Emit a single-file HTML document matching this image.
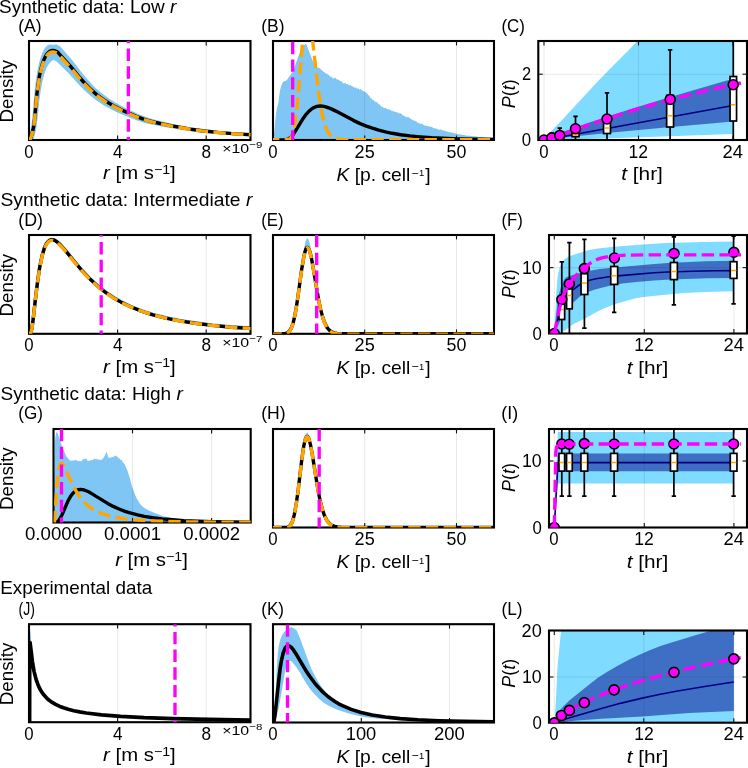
<!DOCTYPE html><html><head><meta charset="utf-8"><style>html,body{margin:0;padding:0;background:#fff;}svg{display:block;will-change:transform;}text{font-family:"Liberation Sans", sans-serif;}</style></head><body>
<svg width="748" height="768" viewBox="0 0 748 768">
<rect width="748" height="768" fill="#fff"/>
<defs>
<clipPath id="cA"><rect x="29" y="41" width="221.5" height="99"/></clipPath>
<clipPath id="cB"><rect x="273" y="41" width="221" height="99"/></clipPath>
<clipPath id="cC"><rect x="538.3" y="41" width="208.7" height="99"/></clipPath>
<clipPath id="cD"><rect x="29" y="235" width="221.5" height="98.8"/></clipPath>
<clipPath id="cE"><rect x="273" y="235" width="221" height="98.8"/></clipPath>
<clipPath id="cF"><rect x="549" y="235" width="198" height="98.5"/></clipPath>
<clipPath id="cG"><rect x="53.5" y="429" width="197.2" height="93.5"/></clipPath>
<clipPath id="cH"><rect x="273" y="429" width="221" height="98.5"/></clipPath>
<clipPath id="cI"><rect x="549" y="429" width="198" height="98.5"/></clipPath>
<clipPath id="cJ"><rect x="29" y="624.2" width="221.5" height="98"/></clipPath>
<clipPath id="cK"><rect x="273" y="624.2" width="221" height="98.3"/></clipPath>
<clipPath id="cL"><rect x="549" y="630.5" width="198" height="92.2"/></clipPath>
</defs>
<g clip-path="url(#cA)">
<path d="M29 135.7L30.9 128L31.6 123.8L32.4 117.3L34.6 91.8L35.7 81.7L37.2 71.7L39.1 62.8L40.2 58.7L41.7 54.3L43.2 50.9L44.3 48.8L45.8 46.9L47.7 45.3L48.8 44.7L51 44.4L52.9 44.9L54.7 44.5L56.6 44.6L58.5 45.4L60.3 46.6L72.7 60.8L82.7 73.8L88.7 80.8L95 87.4L102.5 93.8L110 99.2L118.2 104.2L125.3 107.9L139.4 114.4L147.3 117.5L156.2 120.1L173 123.9L192.4 127.5L203.6 129.1L218.5 130.8L236.1 132.4L252.5 133.4L252.5 136.3L251.4 136.3L222.3 134.6L198.8 132.4L182.4 130.1L161.5 126.5L146.9 123.4L142.4 122.2L137.2 120.4L121.5 114.2L113.3 110.5L104.4 105.7L96.2 100.3L90.2 95.6L83.8 89.8L79 84.8L69.7 74.4L57.4 62.2L55.9 61.1L53.6 60L52.5 60.4L51 61.5L48.8 64L46.5 68.1L44.3 74.1L42.1 82.9L40.6 91.5L39.4 100L36.8 125L35.7 131.3L33.9 138L33.1 139.8L32.7 140L29 140 Z" fill="#80C6F4" stroke="none"/>
<line x1="117.6" y1="41" x2="117.6" y2="140" stroke="#000" stroke-opacity="0.085" stroke-width="1.1"/>
<line x1="206.2" y1="41" x2="206.2" y2="140" stroke="#000" stroke-opacity="0.085" stroke-width="1.1"/>
</g>
<rect x="29" y="41" width="221.5" height="99" fill="none" stroke="#000" stroke-width="2.1"/>
<line x1="117.6" y1="140" x2="117.6" y2="135.6" stroke="#111" stroke-width="1.1"/>
<line x1="117.6" y1="41" x2="117.6" y2="45.4" stroke="#111" stroke-width="1.1"/>
<line x1="206.2" y1="140" x2="206.2" y2="135.6" stroke="#111" stroke-width="1.1"/>
<line x1="206.2" y1="41" x2="206.2" y2="45.4" stroke="#111" stroke-width="1.1"/>
<g clip-path="url(#cA)">
<path d="M29 140L29.7 139.9L30.9 137.9L32.7 131L33.9 125.4L34.6 119L36.8 95L38 85.5L39.4 76.1L41.3 67.7L42.4 63.9L43.9 59.7L45.4 56.5L46.5 54.6L48 52.8L49.9 51.3L51 50.7L53.3 50.5L54.4 50.7L55.5 51.1L57.4 52.1L58.5 53.1L70.8 66.6L80.1 78L85 83.5L91.3 89.9L97.3 95.1L105.1 100.8L113.7 106L121.9 110.1L136.1 116.3L144.7 119.6L153.2 122L170.4 125.6L190.2 129.1L201.8 130.7L217.4 132.4L235.7 133.9L252.5 134.9" fill="none" stroke="#000" stroke-width="3.4" stroke-linejoin="round" stroke-linecap="butt"/>
<path d="M29 140L29.7 139.9L30.9 137.9L32.7 131.1L33.9 125.6L34.6 119.4L36.8 95.7L38 86.4L39.4 77.1L41.3 68.9L42.4 65.1L43.9 61L45.4 57.8L46.5 56L48 54.2L49.9 52.7L51 52.1L53.3 51.9L54.4 52.1L55.5 52.5L57.4 53.5L58.5 54.5L70.8 67.8L80.1 79L85 84.4L91.3 90.7L97.3 95.8L105.1 101.4L113.7 106.5L121.9 110.6L136.1 116.7L144.7 119.9L153.2 122.2L170.4 125.9L190.2 129.3L201.8 130.9L217.4 132.5L235.7 134L252.5 134.9" fill="none" stroke="#FFA500" stroke-width="3.4" stroke-linejoin="round" stroke-linecap="butt" stroke-dasharray="12.36 5.34" stroke-dashoffset="2"/>
<line x1="128.35" y1="13.17" x2="128.35" y2="160" stroke="#FF00FF" stroke-width="3.34" stroke-dasharray="12.36 5.34" stroke-dashoffset="0"/>
</g>
<g clip-path="url(#cB)">
<path d="M273 140L274 133.4L275.5 118.2L276.2 112.6L276.9 108.3L278.4 102.8L279.9 90.9L280.9 86.7L281.8 84.3L283.3 81.8L284.1 81.2L286.3 80.4L287 79.8L291.9 72.9L293.9 68.8L299.3 53.7L301.5 48.8L303.5 45.5L305 44.2L305.9 43.9L306.7 45.1L308.2 49.3L313.6 63L315.3 66.2L316.5 67.1L317 67.7L317.5 67.7L318.2 67.4L320 68.3L320.4 68.7L320.9 69.6L321.7 70.2L322.2 70.3L323.1 71.6L323.6 71.9L324.1 72L325.9 73.4L327.1 73.7L327.8 74.6L328.1 74.5L329 75L329.3 75.7L329.8 75.9L330 76.5L331 76.9L331.3 76.5L331.5 76.5L332.7 78.4L333 78.2L333.5 78.6L334 78.6L334.5 77.9L335.2 77.6L336.9 79.6L337.2 79.4L337.4 79.4L337.7 79.8L337.9 79.5L338.1 79.8L338.9 79.7L339.9 81L340.1 81L340.4 81.5L340.6 81L341.6 81.2L341.8 81.8L342.1 81.8L342.6 82.9L343.1 83.1L343.3 83.4L343.8 83.5L344.5 83.4L345 82.5L345.3 82.9L345.5 82.9L346.3 84.1L346.5 84L347 84.2L347.5 84L348 84.5L348.2 84.2L348.7 85.2L349.5 85.4L349.9 84.9L350.7 85L350.9 84.8L351.2 85.7L352.2 86.8L352.4 86.2L353.1 86.2L353.6 87.4L354.1 87.3L354.4 87.8L354.9 87.2L355.1 87.6L355.8 87.4L356.1 87.9L356.3 87.7L357.1 88.8L357.3 88.6L357.6 89.2L357.8 88.6L358.3 88.3L358.8 88.5L359 89.2L359.8 89.8L360.5 89.1L361 89.3L361.3 90L362.7 90.5L363 90.9L363.7 91.3L364 91.8L364.2 91.4L364.4 91.7L364.7 91.6L365.4 92.3L365.7 92.3L366.2 92.8L366.4 92.5L368.4 95.3L368.6 95.6L368.9 95.3L369.4 95.9L370.3 98.1L371.1 98.1L371.6 98.5L372.3 99.7L372.8 100L373.3 100L373.5 99.7L374.8 101.7L375.5 101.8L376 102.2L376.2 102L376.7 102.3L377 102L377.2 102L378.5 104.6L379 104.3L379.4 104.5L379.7 104.2L381.2 106.8L381.4 106.9L381.9 106.5L382.1 106.7L382.6 106.6L382.9 107.2L383.9 107.9L384.1 107.8L384.6 108.2L385.6 107.8L385.8 108.3L387.1 108.9L387.3 109.3L387.6 109.3L387.8 109.6L388 109.6L388.5 109.1L388.8 109.1L389.8 110.1L390.3 110.1L390.5 109.9L391 110.3L391.2 110.7L391.7 110.7L392.2 110.9L392.5 110.6L392.7 110.8L393 111.4L393.2 111.1L393.7 111.5L393.9 111.4L394.2 111.5L394.4 111.8L394.7 111.5L394.9 111.8L395.7 111.7L395.9 112L396.2 111.8L396.4 112.4L396.7 112.3L397.4 112.7L398.4 112.4L399.4 113.6L399.6 113.7L399.8 113.3L400.6 113.3L400.8 113.5L401.1 114.1L401.6 113.9L401.8 114L402.1 114.7L402.3 114.7L403 115.7L403.5 115.6L404.3 115.8L405 116.8L405.5 116.8L406 116.5L407 117.6L408.2 116.6L408.9 117.7L409.4 118L409.7 117.8L409.9 118.2L410.2 118L410.9 119.2L411.2 118.9L411.4 119.5L411.9 119.5L412.1 119.8L412.6 119.7L413.9 120.8L414.8 120.5L415.6 121.3L415.8 121.2L416.1 121.6L416.8 121.5L417.3 122.5L418 123.4L418.8 122.6L419.5 123.4L419.8 123.3L420 123.9L421.2 123.6L422.5 124.3L423.2 124.4L424.7 125.7L425.9 125.4L427.1 125.9L427.4 125.9L428.1 126.2L428.4 126L428.6 126.4L429.1 126.6L429.8 126.6L430.1 126.8L430.8 127L431.3 126.6L431.8 127.1L432.1 127L432.3 127.2L432.8 127.7L433 127.7L433.3 128.2L434.3 128.2L434.8 128L435 128.3L435.2 128.2L436.5 129L436.7 128.8L437.7 129.1L438 129.7L438.9 129.9L439.2 129.5L439.4 129.7L440.2 129.3L440.4 129.5L440.9 129.6L441.4 130.1L442.9 130.2L443.4 130.5L443.9 130.5L444.3 130.9L445.1 130.8L446.6 131.6L450 132.3L450.5 132.6L451.7 132.6L454.7 133.5L456.1 133.6L457.9 134.2L459.8 134.3L461.1 134.7L461.8 134.7L463 135.1L464.3 135.1L465.5 135.4L469.4 135.7L472.6 136.2L475.6 136.3L477.3 136.7L478.5 136.7L479.7 137L480.5 136.8L483.4 137L484.7 137.3L485.9 137.2L486.6 137.4L487.9 137.3L488.6 137.6L490.3 137.4L490.8 137.6L494 137.6L494 143L273 143 Z" fill="#80C6F4" stroke="none"/>
<line x1="364.7" y1="41" x2="364.7" y2="140" stroke="#000" stroke-opacity="0.085" stroke-width="1.1"/>
<line x1="456.5" y1="41" x2="456.5" y2="140" stroke="#000" stroke-opacity="0.085" stroke-width="1.1"/>
</g>
<rect x="273" y="41" width="221" height="99" fill="none" stroke="#000" stroke-width="2.1"/>
<line x1="364.7" y1="140" x2="364.7" y2="135.6" stroke="#111" stroke-width="1.1"/>
<line x1="364.7" y1="41" x2="364.7" y2="45.4" stroke="#111" stroke-width="1.1"/>
<line x1="456.5" y1="140" x2="456.5" y2="135.6" stroke="#111" stroke-width="1.1"/>
<line x1="456.5" y1="41" x2="456.5" y2="45.4" stroke="#111" stroke-width="1.1"/>
<g clip-path="url(#cB)">
<path d="M273 140L284.9 139.9L287.1 139.5L289.4 138.4L291.6 136.4L293.8 133.6L303.5 117.9L306.1 114.3L308.4 111.8L311 109.4L314 107.5L316.9 106.4L320.3 106L322.5 106.1L325.1 106.7L330.7 108.6L335.9 111.1L353.8 120.6L360.1 123.6L366.4 126.1L372.4 128.2L378.7 130.2L385.4 131.9L392.1 133.3L400.7 134.7L410 135.9L420.1 136.9L431.6 137.8L458.8 138.9L496 139.6" fill="none" stroke="#000" stroke-width="3.4" stroke-linejoin="round" stroke-linecap="butt"/>
<path d="M273 139.7L285.9 139.7L288.9 139.3L290.1 138.6L291.4 137.1L292.3 135.1L293.3 132L294.3 127.6L295.3 121.6L297.1 106.9L298.5 90.6L302.3 44.6L304 27.2L305 20.1L305.7 16.3L306.5 14L307.2 13L307.5 13L308 13.5L309 16.1L310.7 25.3L312.4 38.8L318.1 88.8L320.1 102.7L322.1 113.7L324.3 122.9L326.6 129.2L327.8 131.7L329.3 134L330.8 135.7L332.5 137.1L335 138.3L337.7 139L341.5 139.4L346.7 139.6L496 139.7" fill="none" stroke="#FFA500" stroke-width="3.4" stroke-linejoin="round" stroke-linecap="butt" stroke-dasharray="12.36 5.34" stroke-dashoffset="6"/>
<line x1="292.7" y1="6.4" x2="292.7" y2="160" stroke="#FF00FF" stroke-width="3.34" stroke-dasharray="12.36 5.34" stroke-dashoffset="0"/>
</g>
<g clip-path="url(#cD)">
<path d="M29 333.3L30.1 333.3L30.5 333L30.9 332.4L32 327.6L33.1 319.4L36.1 293.1L38 278.4L39.8 266.4L42.1 255.6L44.3 248.2L45.4 245.5L46.5 243.4L47.7 241.9L49.1 240.5L50.3 239.9L51.8 239.5L53.6 239.8L55.5 240.6L57.7 242.2L60.3 244.6L64.8 249.6L76.8 264.3L83.5 272L90.6 279.4L98 286.1L105.5 292L113.3 297.3L121.5 302L130.5 306.3L141.3 310.6L152.9 314.4L165.6 317.6L179.7 320.5L195 322.9L212.2 325L231.2 326.7L252.5 328.1" fill="none" stroke="#80C6F4" stroke-width="3.6" stroke-linejoin="round" stroke-linecap="butt"/>
<line x1="117.6" y1="235" x2="117.6" y2="333.8" stroke="#000" stroke-opacity="0.085" stroke-width="1.1"/>
<line x1="206.2" y1="235" x2="206.2" y2="333.8" stroke="#000" stroke-opacity="0.085" stroke-width="1.1"/>
</g>
<rect x="29" y="235" width="221.5" height="98.8" fill="none" stroke="#000" stroke-width="2.1"/>
<line x1="117.6" y1="333.8" x2="117.6" y2="329.4" stroke="#111" stroke-width="1.1"/>
<line x1="117.6" y1="235" x2="117.6" y2="239.4" stroke="#111" stroke-width="1.1"/>
<line x1="206.2" y1="333.8" x2="206.2" y2="329.4" stroke="#111" stroke-width="1.1"/>
<line x1="206.2" y1="235" x2="206.2" y2="239.4" stroke="#111" stroke-width="1.1"/>
<g clip-path="url(#cD)">
<path d="M29 333.8L30.1 333.8L30.5 333.5L30.9 332.9L32 328L33.1 319.8L36.1 293.4L38 278.6L39.8 266.6L42.1 255.8L44.3 248.3L45.4 245.7L46.5 243.6L47.7 242L49.1 240.6L50.3 240L51.8 239.7L53.6 239.9L55.5 240.8L57.7 242.4L60.3 244.8L64.8 249.8L76.8 264.5L83.5 272.3L90.6 279.6L98 286.5L105.5 292.3L113.3 297.7L121.5 302.4L130.5 306.7L141.3 311.1L152.9 314.8L165.6 318.1L179.7 320.9L195 323.3L212.2 325.4L231.2 327.2L252.5 328.6" fill="none" stroke="#000" stroke-width="3.4" stroke-linejoin="round" stroke-linecap="butt"/>
<path d="M29 333.8L30.1 333.8L30.5 333.5L30.9 332.9L32 328.1L33.1 319.9L36.1 293.7L38 279.1L39.8 267.2L42.1 256.4L44.3 249L45.4 246.4L46.5 244.3L47.7 242.7L49.1 241.3L50.3 240.7L51.8 240.4L53.6 240.7L55.5 241.5L57.7 243.1L60.3 245.5L64.8 250.4L76.8 265L83.5 272.8L90.6 280.1L98 286.8L105.5 292.7L113.3 297.9L121.5 302.6L130.5 306.9L141.3 311.2L152.9 314.9L165.6 318.2L179.7 321L195 323.4L212.2 325.5L231.2 327.2L252.5 328.7" fill="none" stroke="#FFA500" stroke-width="3.4" stroke-linejoin="round" stroke-linecap="butt" stroke-dasharray="12.36 5.34" stroke-dashoffset="0"/>
<line x1="101.2" y1="206.7" x2="101.2" y2="353.8" stroke="#FF00FF" stroke-width="3.34" stroke-dasharray="12.36 5.34" stroke-dashoffset="0"/>
</g>
<g clip-path="url(#cE)">
<path d="M273 333.8L283.9 333.7L286.1 333.5L287.6 333.1L289.1 332.3L290.4 331L291.6 328.9L292.6 326.5L293.6 323.3L294.6 319.2L296.6 307.8L298.3 294.8L302.3 260.8L304 248.6L305 243.5L305.7 240.8L306.7 238.7L307.5 238.3L308.2 239L309.2 241.3L311 249L312.7 260L317.9 296.9L319.6 306.8L321.4 314.9L323.4 321.7L325.3 326.4L326.6 328.5L327.8 330L329.1 331.1L330.5 332.1L332.5 332.9L335 333.4L342.5 333.8L496 333.8L496 336.8L273 336.8 Z" fill="#80C6F4" stroke="none"/>
<path d="M273 334.8L282.9 334.7L285.2 334.5L286.6 334.1L288.1 333.3L289.6 331.8L290.9 329.8L291.9 327.6L293.1 323.9L294.1 320L296.1 309.8L297.8 298.5L301.8 269.6L303.8 257.8L304.8 253.4L305.7 250.4L306.7 248.7L307.5 248.4L308.2 249L309.2 250.8L310.2 253.9L311.2 258L312.9 267.1L318.6 300.9L320.6 310.4L322.4 317.1L324.6 323.6L326.8 328.1L328.1 329.8L329.3 331.1L330.8 332.3L332.3 333.2L334.5 333.9L337 334.4L344.9 334.8L496 334.8L496 336.8L273 336.8 Z" fill="#fff" stroke="none"/>
<line x1="364.7" y1="235" x2="364.7" y2="333.8" stroke="#000" stroke-opacity="0.085" stroke-width="1.1"/>
<line x1="456.5" y1="235" x2="456.5" y2="333.8" stroke="#000" stroke-opacity="0.085" stroke-width="1.1"/>
</g>
<rect x="273" y="235" width="221" height="98.8" fill="none" stroke="#000" stroke-width="2.1"/>
<line x1="364.7" y1="333.8" x2="364.7" y2="329.4" stroke="#111" stroke-width="1.1"/>
<line x1="364.7" y1="235" x2="364.7" y2="239.4" stroke="#111" stroke-width="1.1"/>
<line x1="456.5" y1="333.8" x2="456.5" y2="329.4" stroke="#111" stroke-width="1.1"/>
<line x1="456.5" y1="235" x2="456.5" y2="239.4" stroke="#111" stroke-width="1.1"/>
<g clip-path="url(#cE)">
<path d="M273 333.8L282.9 333.7L285.2 333.5L286.6 333.1L288.1 332.3L289.6 330.8L290.9 328.8L291.9 326.6L293.1 322.9L294.1 319L296.1 308.8L297.8 297.5L301.8 268.6L303.8 256.8L304.8 252.4L305.7 249.4L306.7 247.7L307.5 247.4L308.2 248L309.2 249.8L310.2 252.9L311.2 257L312.9 266.1L318.6 299.9L320.6 309.4L322.4 316.1L324.6 322.6L326.8 327.1L328.1 328.8L329.3 330.1L330.8 331.3L332.3 332.2L334.5 332.9L337 333.4L344.9 333.8L496 333.8" fill="none" stroke="#000" stroke-width="3.4" stroke-linejoin="round" stroke-linecap="butt"/>
<path d="M273 334.1L282.9 334L285.2 333.8L286.6 333.4L288.1 332.6L289.6 331.1L290.9 329.1L291.9 326.9L293.1 323.2L294.1 319.3L296.1 309.1L297.8 297.8L301.8 268.9L303.8 257.1L304.8 252.7L305.7 249.7L306.7 248L307.5 247.7L308.2 248.3L309.2 250.1L310.2 253.2L311.2 257.3L312.9 266.4L318.6 300.2L320.6 309.7L322.4 316.4L324.6 322.9L326.8 327.4L328.1 329.1L329.3 330.4L330.8 331.6L332.3 332.5L334.5 333.2L337 333.7L344.9 334.1L496 334.1" fill="none" stroke="#FFA500" stroke-width="3.4" stroke-linejoin="round" stroke-linecap="butt" stroke-dasharray="12.36 5.34" stroke-dashoffset="3.6"/>
<line x1="316.7" y1="217.3" x2="316.7" y2="353.8" stroke="#FF00FF" stroke-width="3.34" stroke-dasharray="12.36 5.34" stroke-dashoffset="0"/>
</g>
<g clip-path="url(#cG)">
<path d="M53.6 522.5L54 480.5L54.7 446.8L54.9 441.1L55.4 437.2L56 433.6L56.5 432.3L56.9 431.9L57.6 433L61.9 446.1L65.9 455.5L67.2 457.6L69.8 460.3L70.1 461.3L70.3 461.2L70.7 460.3L71.6 460.8L72.3 459.8L72.7 460.8L73.1 461.3L74.2 459.8L74.5 460.4L74.9 460.8L75.1 460.6L75.3 459.8L75.6 459.7L75.8 459.9L76 459.7L76.2 460.1L76.4 459.9L77.1 461.1L77.3 461.2L77.5 460.8L78 460.8L78.2 461.2L79.1 460.5L79.5 461.2L79.9 461L80.2 461.3L80.4 460.8L80.6 460.9L80.8 461.3L81.3 461.2L81.5 461.4L83 459.1L83.2 459.2L83.7 458.4L83.9 458.9L84.1 458.6L84.6 459.4L85.2 458.6L85.9 459.1L86.1 458.8L86.3 458.9L86.5 458.7L86.8 458.8L87.4 460.9L87.6 460.6L88.1 460.8L88.3 460.6L89 461L89.2 460.4L89.6 461L89.8 460.3L90 460.9L90.5 459.9L90.9 459.7L91.4 460.3L91.8 460L92 460.2L92.5 459.8L92.7 459.9L93.1 459.3L93.3 459.6L93.8 459.8L94.2 458.6L94.7 458.3L95.1 459.5L95.3 459.1L95.5 459.5L96 458.4L96.2 459.2L96.4 458.5L96.9 459.8L97.1 459.3L97.5 459.6L98 458.7L98.2 459.1L98.4 459.1L98.8 460.3L99.1 460.3L99.7 459.4L99.9 459.7L100.2 459.7L100.4 460.1L101.2 459.3L101.9 459.9L102.3 459.4L102.8 458.3L103 458.3L103.2 458L103.7 457.8L104.5 455.9L104.8 455.6L105 455.5L106.3 451.9L106.5 452.3L106.7 452.2L107 452.7L108.1 456.9L109.4 458.2L110.3 457.3L110.7 458.1L110.9 457.6L111.6 457.1L111.8 457.4L112 457.4L112.2 456.8L113.1 457.5L113.3 457.1L113.5 457.3L114 456.8L114.2 456.8L114.4 456L114.9 456L115.1 455.5L115.3 455.6L115.5 455.3L116.2 456.8L116.6 455.9L117.3 456.5L117.5 457.3L117.9 456.8L118.8 458.8L119.3 458.5L119.5 458.7L119.7 458.1L120.8 460.4L121 460L121.4 459.9L121.7 459.4L122.1 461L122.8 462.3L123 462.3L123.4 463.1L123.6 462.8L124.7 464.6L127.2 469.9L129.6 477.3L132 486.5L135.5 495.7L137.7 500.3L139.7 503.6L141.9 505.9L145.2 508.4L149.3 510.7L158.8 514.6L163.6 516.2L172 518L184 519.8L193.9 520.6L203.8 521L229 521.6L251 521.8L251 525.5L53.6 525.5 Z" fill="#80C6F4" stroke="none"/>
<line x1="132.5" y1="429" x2="132.5" y2="522.5" stroke="#000" stroke-opacity="0.085" stroke-width="1.1"/>
<line x1="211.6" y1="429" x2="211.6" y2="522.5" stroke="#000" stroke-opacity="0.085" stroke-width="1.1"/>
</g>
<rect x="53.5" y="429" width="197.2" height="93.5" fill="none" stroke="#000" stroke-width="2.1"/>
<line x1="132.5" y1="522.5" x2="132.5" y2="518.1" stroke="#111" stroke-width="1.1"/>
<line x1="132.5" y1="429" x2="132.5" y2="433.4" stroke="#111" stroke-width="1.1"/>
<line x1="211.6" y1="522.5" x2="211.6" y2="518.1" stroke="#111" stroke-width="1.1"/>
<line x1="211.6" y1="429" x2="211.6" y2="433.4" stroke="#111" stroke-width="1.1"/>
<g clip-path="url(#cG)">
<path d="M53.5 522.5L55.5 522.4L56.9 522.1L58.3 521L59.5 519.5L61.8 515.2L68.3 500.4L70.3 496.8L72.3 494L74.3 491.9L76.3 490.5L78.3 489.7L80.6 489.4L82.3 489.6L84.3 490L88.6 491.8L92.5 494.1L107.6 503.4L113.3 506.4L119 509L125 511.3L131 513.2L137.6 514.9L144.4 516.4L152.7 517.7L162.1 518.9L172.3 519.8L184 520.6L212.5 521.6L252.7 522.2" fill="none" stroke="#000" stroke-width="3.4" stroke-linejoin="round" stroke-linecap="butt"/>
<path d="M53.5 522.5L54.1 522.5L54.4 522.2L54.6 520.5L56.9 486.3L58.3 472.3L58.9 468.9L59.8 465.5L60.6 463.8L61.5 463.3L62 463.5L62.6 463.9L64.3 466.6L71.2 481.9L75.2 489.7L78.6 495.2L82.3 500L84.6 502.5L87.1 504.9L89.7 507L92.5 508.9L95.7 510.7L98.8 512.3L105.9 514.9L113.9 517L123.6 518.6L135 519.9L149 520.8L165.8 521.4L186.9 521.9L252.7 522.3" fill="none" stroke="#FFA500" stroke-width="3.4" stroke-linejoin="round" stroke-linecap="butt" stroke-dasharray="12.36 5.34" stroke-dashoffset="0"/>
<line x1="61.5" y1="411.3" x2="61.5" y2="542.5" stroke="#FF00FF" stroke-width="3.34" stroke-dasharray="12.36 5.34" stroke-dashoffset="0"/>
</g>
<g clip-path="url(#cH)">
<path d="M273 527.5L285.4 527.5L288.6 527.1L289.9 526.5L291.1 525.4L292.1 524L293.1 521.7L294.1 518.5L295.1 514.2L297.1 502L298.5 489.8L302.3 455.3L304 442.4L305 437.1L305.7 434.4L306.5 432.9L307.2 432.4L308 433L308.7 434.7L309.5 437.3L310.5 442L312.2 452.8L317.4 489.5L319.4 500.6L321.1 508.4L323.1 515L325.3 520.1L326.6 522L327.8 523.5L329.3 524.8L330.8 525.7L333 526.6L335.5 527.1L343.7 527.5L496 527.5L496 530.5L273 530.5 Z" fill="#80C6F4" stroke="none"/>
<path d="M273 528.5L284.4 528.5L287.6 528.1L289.1 527.4L290.4 526.3L291.4 524.8L292.3 522.6L293.3 519.6L294.3 515.6L296.3 504.5L298.1 491.7L301.8 460.5L303.5 448.5L304.5 443.4L305.5 439.8L306.2 438.2L306.7 437.6L307.2 437.5L308 438L309 440.1L310.7 446.7L312.4 456.1L318.1 491.5L320.1 501.5L322.1 509.5L324.3 516.2L326.6 520.8L327.8 522.7L329.3 524.4L330.8 525.6L332.5 526.6L334.8 527.4L337.7 528L341.2 528.3L346.4 528.5L496 528.5L496 530.5L273 530.5 Z" fill="#fff" stroke="none"/>
<line x1="364.7" y1="429" x2="364.7" y2="527.5" stroke="#000" stroke-opacity="0.085" stroke-width="1.1"/>
<line x1="456.5" y1="429" x2="456.5" y2="527.5" stroke="#000" stroke-opacity="0.085" stroke-width="1.1"/>
</g>
<rect x="273" y="429" width="221" height="98.5" fill="none" stroke="#000" stroke-width="2.1"/>
<line x1="364.7" y1="527.5" x2="364.7" y2="523.1" stroke="#111" stroke-width="1.1"/>
<line x1="364.7" y1="429" x2="364.7" y2="433.4" stroke="#111" stroke-width="1.1"/>
<line x1="456.5" y1="527.5" x2="456.5" y2="523.1" stroke="#111" stroke-width="1.1"/>
<line x1="456.5" y1="429" x2="456.5" y2="433.4" stroke="#111" stroke-width="1.1"/>
<g clip-path="url(#cH)">
<path d="M273 527.5L284.4 527.5L287.6 527.1L289.1 526.4L290.4 525.3L291.4 523.8L292.3 521.6L293.3 518.6L294.3 514.6L296.3 503.5L298.1 490.7L301.8 459.5L303.5 447.5L304.5 442.4L305.5 438.8L306.2 437.2L306.7 436.6L307.2 436.5L308 437L309 439.1L310.7 445.7L312.4 455.1L318.1 490.5L320.1 500.5L322.1 508.5L324.3 515.2L326.6 519.8L327.8 521.7L329.3 523.4L330.8 524.6L332.5 525.6L334.8 526.4L337.7 527L341.2 527.3L346.4 527.5L496 527.5" fill="none" stroke="#000" stroke-width="3.4" stroke-linejoin="round" stroke-linecap="butt"/>
<path d="M273 527.8L284.4 527.8L287.6 527.4L289.1 526.7L290.4 525.6L291.4 524.1L292.3 521.9L293.3 518.9L294.3 514.9L296.3 503.8L298.1 491L301.8 459.8L303.5 447.8L304.5 442.7L305.5 439.1L306.2 437.5L306.7 436.9L307.2 436.8L308 437.3L309 439.4L310.7 446L312.4 455.4L318.1 490.8L320.1 500.8L322.1 508.8L324.3 515.5L326.6 520.1L327.8 522L329.3 523.7L330.8 524.9L332.5 525.9L334.8 526.7L337.7 527.3L341.2 527.6L346.4 527.8L496 527.8" fill="none" stroke="#FFA500" stroke-width="3.4" stroke-linejoin="round" stroke-linecap="butt" stroke-dasharray="12.36 5.34" stroke-dashoffset="3.6"/>
<line x1="319.2" y1="411.3" x2="319.2" y2="547.5" stroke="#FF00FF" stroke-width="3.34" stroke-dasharray="12.36 5.34" stroke-dashoffset="0"/>
</g>
<g clip-path="url(#cJ)">
<path d="M29 628L30.5 632L31.5 644L31.5 650L29 650 Z" fill="#80C6F4" stroke="none"/>
<line x1="117.6" y1="624.2" x2="117.6" y2="722.2" stroke="#000" stroke-opacity="0.085" stroke-width="1.1"/>
<line x1="206.2" y1="624.2" x2="206.2" y2="722.2" stroke="#000" stroke-opacity="0.085" stroke-width="1.1"/>
</g>
<rect x="29" y="624.2" width="221.5" height="98" fill="none" stroke="#000" stroke-width="2.1"/>
<line x1="117.6" y1="722.2" x2="117.6" y2="717.8" stroke="#111" stroke-width="1.1"/>
<line x1="117.6" y1="624.2" x2="117.6" y2="628.6" stroke="#111" stroke-width="1.1"/>
<line x1="206.2" y1="722.2" x2="206.2" y2="717.8" stroke="#111" stroke-width="1.1"/>
<line x1="206.2" y1="624.2" x2="206.2" y2="628.6" stroke="#111" stroke-width="1.1"/>
<g clip-path="url(#cJ)">
<path d="M29.6 725.2L29.7 658L29.9 645.9L30.1 642.6L32.4 661.5L34.1 671.6L35.4 676.8L36.6 680.9L38.1 684.9L39.8 688.7L41.8 692.1L44 695.1L46.5 697.8L49.2 700.3L52.2 702.4L55.6 704.4L59.3 706.2L63.5 707.8L68.2 709.3L73.7 710.7L79.6 711.9L86.3 713L101.6 714.9L120.7 716.4L144.2 717.7L172.9 718.6L208.5 719.4L252.5 720.1" fill="none" stroke="#000" stroke-width="3.7" stroke-linejoin="round" stroke-linecap="butt"/>
<line x1="175" y1="596.5" x2="175" y2="742.2" stroke="#FF00FF" stroke-width="3.34" stroke-dasharray="12.36 5.34" stroke-dashoffset="0"/>
</g>
<g clip-path="url(#cK)">
<path d="M273.3 722.6L273.7 721.6L274.2 718.8L275.1 709.5L276.4 674.6L277.7 654.3L278.6 646.9L279.5 642.5L280.4 639.3L281.7 636L283 633.5L284.8 631.2L287 629.2L289.2 627.8L291 627.3L292.8 627.7L294.5 628.7L296.3 630.1L297.2 631.5L300.7 639.9L308.7 661.9L311.3 668.7L315.8 677.6L318 681.4L320.6 685.4L323.3 688.9L325.9 692L329.9 696L333.9 699.6L337 702.1L340.1 704.3L345 707.2L348.9 709.2L352.9 710.9L356.9 712.1L362.2 713.4L367.9 714.6L382.1 716.6L402.4 718.6L416.6 719.6L432.5 720.1L464.8 720.8L494 721L494 722L463.6 721.8L427.5 721.1L412.5 720.7L395.8 719.8L379.5 718.7L367.6 717.4L356.6 715.4L347.3 713L336.7 709.4L329.3 706L324.4 703.2L318.2 697.9L313.8 693.6L309.9 688.8L305 681.6L300.2 673.1L296.7 667.7L292.3 662L291.4 661.2L290.5 660.8L288.7 661.1L287.4 661.7L286.5 664.1L283.9 678.2L281.2 694.6L278.6 708.4L276.4 716.8L274.2 722.6 Z" fill="#80C6F4" stroke="none"/>
<line x1="361.3" y1="624.2" x2="361.3" y2="722.5" stroke="#000" stroke-opacity="0.085" stroke-width="1.1"/>
<line x1="449.5" y1="624.2" x2="449.5" y2="722.5" stroke="#000" stroke-opacity="0.085" stroke-width="1.1"/>
</g>
<rect x="273" y="624.2" width="221" height="98.3" fill="none" stroke="#000" stroke-width="2.1"/>
<line x1="361.3" y1="722.5" x2="361.3" y2="718.1" stroke="#111" stroke-width="1.1"/>
<line x1="361.3" y1="624.2" x2="361.3" y2="628.6" stroke="#111" stroke-width="1.1"/>
<line x1="449.5" y1="722.5" x2="449.5" y2="718.1" stroke="#111" stroke-width="1.1"/>
<line x1="449.5" y1="624.2" x2="449.5" y2="628.6" stroke="#111" stroke-width="1.1"/>
<g clip-path="url(#cK)">
<path d="M273 722.5L273.6 722L274 721.1L274.9 715.9L279.1 677.1L280.3 667.4L281.6 659.8L283.2 653L284.8 648.8L285.4 647.6L286.4 646.5L287.4 645.9L288.3 645.7L289.3 645.9L290.5 646.7L291.8 647.9L293.4 649.9L296.6 654.8L305.5 669.9L309.7 676.2L315.4 684L321.2 690.4L324.4 693.5L327.9 696.5L331.4 699.1L334.9 701.5L338.7 703.8L342.5 705.7L351.2 709.4L361.1 712.5L372.2 715L385.3 717L400.3 718.6L417.8 719.8L438.6 720.7L464.1 721.4L496 721.9" fill="none" stroke="#000" stroke-width="3.6" stroke-linejoin="round" stroke-linecap="butt"/>
<line x1="287.5" y1="589.1" x2="287.5" y2="742.5" stroke="#FF00FF" stroke-width="3.34" stroke-dasharray="12.36 5.34" stroke-dashoffset="0"/>
</g>
<g clip-path="url(#cC)">
<path d="M544 140L545 139.3L546.9 136.2L550.7 131.5L559.7 122.6L596.3 83L605.4 73.5L637.2 41.4L668.6 8.6L681.5 -4.5L708.1 -30.7L733.8 -55L733 134.1L619.9 138L574.3 139.3L544 140 Z" fill="#7FDBFF" stroke="none"/>
<path d="M544 140L546.5 138.6L551.6 136.4L566.1 130.7L585.7 123.8L609.1 116L635.7 107.6L665.4 98.5L697.6 88.9L733 78.7L733 121.5L665.4 127.6L609.7 132.8L566.8 137.2L544 140 Z" fill="#3F6FC5" stroke="none"/>
<line x1="544" y1="41" x2="544" y2="140" stroke="#000" stroke-opacity="0.085" stroke-width="1.1"/>
<line x1="638.5" y1="41" x2="638.5" y2="140" stroke="#000" stroke-opacity="0.085" stroke-width="1.1"/>
<line x1="733" y1="41" x2="733" y2="140" stroke="#000" stroke-opacity="0.085" stroke-width="1.1"/>
<line x1="538.3" y1="74.2" x2="747" y2="74.2" stroke="#000" stroke-opacity="0.085" stroke-width="1.1"/>
</g>
<rect x="538.3" y="41" width="208.7" height="99" fill="none" stroke="#000" stroke-width="2.1"/>
<line x1="544" y1="140" x2="544" y2="135.6" stroke="#111" stroke-width="1.1"/>
<line x1="544" y1="41" x2="544" y2="45.4" stroke="#111" stroke-width="1.1"/>
<line x1="638.5" y1="140" x2="638.5" y2="135.6" stroke="#111" stroke-width="1.1"/>
<line x1="638.5" y1="41" x2="638.5" y2="45.4" stroke="#111" stroke-width="1.1"/>
<line x1="733" y1="140" x2="733" y2="135.6" stroke="#111" stroke-width="1.1"/>
<line x1="733" y1="41" x2="733" y2="45.4" stroke="#111" stroke-width="1.1"/>
<line x1="538.3" y1="74.2" x2="542.7" y2="74.2" stroke="#111" stroke-width="1.1"/>
<line x1="747" y1="74.2" x2="742.6" y2="74.2" stroke="#111" stroke-width="1.1"/>
<g clip-path="url(#cC)">
<path d="M544 140L733 105.5" fill="none" stroke="#000080" stroke-width="1.6" stroke-linejoin="round" stroke-linecap="butt"/>
<path d="M544 140L547.9 138.9L555.2 136.6L590.5 124.2L610.3 117.5L629.2 111.4L648 105.8L670.3 99.6L693 93.8L716.7 88.2L740.9 83" fill="none" stroke="#FF00FF" stroke-width="3.34" stroke-linejoin="round" stroke-linecap="butt" stroke-dasharray="12.36 5.34" stroke-dashoffset="0"/>
<line x1="551.9" y1="133.5" x2="551.9" y2="136.5" stroke="#000" stroke-width="1.7"/>
<line x1="551.9" y1="139.5" x2="551.9" y2="140.5" stroke="#000" stroke-width="1.7"/>
<line x1="549.7" y1="133.5" x2="554.1" y2="133.5" stroke="#000" stroke-width="1.8"/>
<line x1="549.7" y1="140.5" x2="554.1" y2="140.5" stroke="#000" stroke-width="1.8"/>
<rect x="548.55" y="136.5" width="6.7" height="3" fill="#fff" stroke="#000" stroke-width="1.7"/>
<line x1="549.2" y1="138.3" x2="554.6" y2="138.3" stroke="#FFA500" stroke-width="1.5"/>
<line x1="559.75" y1="128.1" x2="559.75" y2="134.3" stroke="#000" stroke-width="1.7"/>
<line x1="559.75" y1="139" x2="559.75" y2="140.5" stroke="#000" stroke-width="1.7"/>
<line x1="557.55" y1="128.1" x2="561.95" y2="128.1" stroke="#000" stroke-width="1.8"/>
<line x1="557.55" y1="140.5" x2="561.95" y2="140.5" stroke="#000" stroke-width="1.8"/>
<rect x="556.4" y="134.3" width="6.7" height="4.7" fill="#fff" stroke="#000" stroke-width="1.7"/>
<line x1="557.05" y1="137.2" x2="562.45" y2="137.2" stroke="#FFA500" stroke-width="1.5"/>
<line x1="575.5" y1="116.4" x2="575.5" y2="131.5" stroke="#000" stroke-width="1.7"/>
<line x1="575.5" y1="136.7" x2="575.5" y2="140.5" stroke="#000" stroke-width="1.7"/>
<line x1="573.3" y1="116.4" x2="577.7" y2="116.4" stroke="#000" stroke-width="1.8"/>
<line x1="573.3" y1="140.5" x2="577.7" y2="140.5" stroke="#000" stroke-width="1.8"/>
<rect x="572.05" y="131.5" width="6.9" height="5.2" fill="#fff" stroke="#000" stroke-width="1.7"/>
<line x1="572.7" y1="135.1" x2="578.3" y2="135.1" stroke="#FFA500" stroke-width="1.5"/>
<line x1="607" y1="92.8" x2="607" y2="122.8" stroke="#000" stroke-width="1.7"/>
<line x1="607" y1="133.5" x2="607" y2="140.5" stroke="#000" stroke-width="1.7"/>
<line x1="604.8" y1="92.8" x2="609.2" y2="92.8" stroke="#000" stroke-width="1.8"/>
<line x1="604.8" y1="140.5" x2="609.2" y2="140.5" stroke="#000" stroke-width="1.8"/>
<rect x="603.55" y="122.8" width="6.9" height="10.7" fill="#fff" stroke="#000" stroke-width="1.7"/>
<line x1="604.2" y1="128.1" x2="609.8" y2="128.1" stroke="#FFA500" stroke-width="1.5"/>
<line x1="670.1" y1="49.9" x2="670.1" y2="95.3" stroke="#000" stroke-width="1.7"/>
<line x1="670.1" y1="127" x2="670.1" y2="140.5" stroke="#000" stroke-width="1.7"/>
<line x1="667.9" y1="49.9" x2="672.3" y2="49.9" stroke="#000" stroke-width="1.8"/>
<line x1="667.9" y1="140.5" x2="672.3" y2="140.5" stroke="#000" stroke-width="1.8"/>
<rect x="666.65" y="95.3" width="6.9" height="31.7" fill="#fff" stroke="#000" stroke-width="1.7"/>
<line x1="667.3" y1="115.8" x2="672.9" y2="115.8" stroke="#FFA500" stroke-width="1.5"/>
<line x1="733.3" y1="20" x2="733.3" y2="76.5" stroke="#000" stroke-width="1.7"/>
<line x1="733.3" y1="121" x2="733.3" y2="140.5" stroke="#000" stroke-width="1.7"/>
<line x1="731.1" y1="20" x2="735.5" y2="20" stroke="#000" stroke-width="1.8"/>
<line x1="731.1" y1="140.5" x2="735.5" y2="140.5" stroke="#000" stroke-width="1.8"/>
<rect x="730.05" y="76.5" width="6.5" height="44.5" fill="#fff" stroke="#000" stroke-width="1.7"/>
<line x1="730.7" y1="104.8" x2="735.9" y2="104.8" stroke="#FFA500" stroke-width="1.5"/>
<circle cx="544" cy="140" r="4.95" fill="#FF00FF" stroke="#000" stroke-width="1.6"/>
<circle cx="551.9" cy="137.8" r="4.95" fill="#FF00FF" stroke="#000" stroke-width="1.6"/>
<circle cx="559.75" cy="135.4" r="4.95" fill="#FF00FF" stroke="#000" stroke-width="1.6"/>
<circle cx="575.5" cy="128.7" r="4.95" fill="#FF00FF" stroke="#000" stroke-width="1.6"/>
<circle cx="607" cy="119" r="4.95" fill="#FF00FF" stroke="#000" stroke-width="1.6"/>
<circle cx="670.2" cy="99.5" r="4.95" fill="#FF00FF" stroke="#000" stroke-width="1.6"/>
<circle cx="733.2" cy="84.7" r="4.95" fill="#FF00FF" stroke="#000" stroke-width="1.6"/>
</g>
<g clip-path="url(#cF)">
<path d="M554.3 333.5L556.5 289.5L557.4 279.1L558.3 272.7L559.7 267.4L560.6 265.1L561.9 262.6L563.3 260.7L564.6 259.3L566 258.2L567.8 257L572.3 255.2L584 251.4L588 250.3L597.9 248.6L611.9 247L642 244.5L666.3 243L703.7 241.9L733.8 241.6L733.8 291.3L711.8 291.7L683.9 293L647.9 296.4L640.2 297.4L635.7 298.3L616.8 303.6L610.1 305.9L603.3 308.7L597.5 311.4L584.9 318.4L573.6 324L571.4 325.4L565.5 329.9L563.3 331.2L558.8 332.9L554.3 333.5 Z" fill="#7FDBFF" stroke="none"/>
<path d="M554.3 333.5L555.6 319.6L557.4 304.1L558.3 297.5L559.2 293L561 287.3L563.7 280.7L564.6 278.9L565.1 278.3L566 277.6L568.7 276.2L580.4 272.8L588.5 270.9L599.7 269.1L614.6 267.5L651.5 264.2L667.7 263L705.9 261.3L733.8 260.8L733.8 277.9L707.3 278.3L670.8 279.6L653.7 280.6L636.2 282L622.2 283.5L609.6 285.7L598.8 288.4L593.4 290L589.4 291.4L584.9 293.6L579.9 296.6L574.1 301.8L569.1 305.4L566.4 308.1L565.1 310L563.7 312.4L557 328L554.3 333.5 Z" fill="#3F6FC5" stroke="none"/>
<line x1="554.3" y1="235" x2="554.3" y2="333.5" stroke="#000" stroke-opacity="0.085" stroke-width="1.1"/>
<line x1="644.3" y1="235" x2="644.3" y2="333.5" stroke="#000" stroke-opacity="0.085" stroke-width="1.1"/>
<line x1="733.9" y1="235" x2="733.9" y2="333.5" stroke="#000" stroke-opacity="0.085" stroke-width="1.1"/>
<line x1="549" y1="267.6" x2="747" y2="267.6" stroke="#000" stroke-opacity="0.085" stroke-width="1.1"/>
</g>
<rect x="549" y="235" width="198" height="98.5" fill="none" stroke="#000" stroke-width="2.1"/>
<line x1="554.3" y1="333.5" x2="554.3" y2="329.1" stroke="#111" stroke-width="1.1"/>
<line x1="554.3" y1="235" x2="554.3" y2="239.4" stroke="#111" stroke-width="1.1"/>
<line x1="644.3" y1="333.5" x2="644.3" y2="329.1" stroke="#111" stroke-width="1.1"/>
<line x1="644.3" y1="235" x2="644.3" y2="239.4" stroke="#111" stroke-width="1.1"/>
<line x1="733.9" y1="333.5" x2="733.9" y2="329.1" stroke="#111" stroke-width="1.1"/>
<line x1="733.9" y1="235" x2="733.9" y2="239.4" stroke="#111" stroke-width="1.1"/>
<line x1="549" y1="267.6" x2="553.4" y2="267.6" stroke="#111" stroke-width="1.1"/>
<line x1="747" y1="267.6" x2="742.6" y2="267.6" stroke="#111" stroke-width="1.1"/>
<g clip-path="url(#cF)">
<path d="M554.3 333.5L558.8 314.6L560.6 308.1L563.3 301.7L566.4 296.3L568.2 293.8L569.6 292.4L578.1 285.8L583.1 282.9L588 280.8L591.6 279.8L596.1 278.8L609.2 276.7L620.4 275.6L654.2 272.8L668.1 272L692 271.3L714.5 270.8L733.8 270.6" fill="none" stroke="#000080" stroke-width="1.6" stroke-linejoin="round" stroke-linecap="butt"/>
<line x1="561.8" y1="261.8" x2="561.8" y2="303" stroke="#000" stroke-width="1.7"/>
<line x1="561.8" y1="319.5" x2="561.8" y2="334.5" stroke="#000" stroke-width="1.7"/>
<line x1="559.6" y1="261.8" x2="564" y2="261.8" stroke="#000" stroke-width="1.8"/>
<line x1="559.6" y1="334.5" x2="564" y2="334.5" stroke="#000" stroke-width="1.8"/>
<rect x="558.95" y="303" width="5.7" height="16.5" fill="#fff" stroke="#000" stroke-width="1.7"/>
<line x1="559.6" y1="309.5" x2="564" y2="309.5" stroke="#FFA500" stroke-width="1.5"/>
<line x1="569.4" y1="242.6" x2="569.4" y2="288.7" stroke="#000" stroke-width="1.7"/>
<line x1="569.4" y1="308.8" x2="569.4" y2="334.5" stroke="#000" stroke-width="1.7"/>
<line x1="567.2" y1="242.6" x2="571.6" y2="242.6" stroke="#000" stroke-width="1.8"/>
<line x1="567.2" y1="334.5" x2="571.6" y2="334.5" stroke="#000" stroke-width="1.8"/>
<rect x="566.55" y="288.7" width="5.7" height="20.1" fill="#fff" stroke="#000" stroke-width="1.7"/>
<line x1="567.2" y1="295.6" x2="571.6" y2="295.6" stroke="#FFA500" stroke-width="1.5"/>
<line x1="584.4" y1="239.3" x2="584.4" y2="273.7" stroke="#000" stroke-width="1.7"/>
<line x1="584.4" y1="294.5" x2="584.4" y2="328.1" stroke="#000" stroke-width="1.7"/>
<line x1="582.2" y1="239.3" x2="586.6" y2="239.3" stroke="#000" stroke-width="1.8"/>
<line x1="582.2" y1="328.1" x2="586.6" y2="328.1" stroke="#000" stroke-width="1.8"/>
<rect x="581.05" y="273.7" width="6.7" height="20.8" fill="#fff" stroke="#000" stroke-width="1.7"/>
<line x1="581.7" y1="283" x2="587.1" y2="283" stroke="#FFA500" stroke-width="1.5"/>
<line x1="614.2" y1="238.3" x2="614.2" y2="266.5" stroke="#000" stroke-width="1.7"/>
<line x1="614.2" y1="284.4" x2="614.2" y2="312.4" stroke="#000" stroke-width="1.7"/>
<line x1="612" y1="238.3" x2="616.4" y2="238.3" stroke="#000" stroke-width="1.8"/>
<line x1="612" y1="312.4" x2="616.4" y2="312.4" stroke="#000" stroke-width="1.8"/>
<rect x="610.75" y="266.5" width="6.9" height="17.9" fill="#fff" stroke="#000" stroke-width="1.7"/>
<line x1="611.4" y1="275.8" x2="617" y2="275.8" stroke="#FFA500" stroke-width="1.5"/>
<line x1="673.9" y1="236.8" x2="673.9" y2="262.5" stroke="#000" stroke-width="1.7"/>
<line x1="673.9" y1="279.6" x2="673.9" y2="304.8" stroke="#000" stroke-width="1.7"/>
<line x1="671.7" y1="236.8" x2="676.1" y2="236.8" stroke="#000" stroke-width="1.8"/>
<line x1="671.7" y1="304.8" x2="676.1" y2="304.8" stroke="#000" stroke-width="1.8"/>
<rect x="670.45" y="262.5" width="6.9" height="17.1" fill="#fff" stroke="#000" stroke-width="1.7"/>
<line x1="671.1" y1="271.6" x2="676.7" y2="271.6" stroke="#FFA500" stroke-width="1.5"/>
<line x1="733.6" y1="236" x2="733.6" y2="261.7" stroke="#000" stroke-width="1.7"/>
<line x1="733.6" y1="278.4" x2="733.6" y2="303.9" stroke="#000" stroke-width="1.7"/>
<line x1="731.4" y1="236" x2="735.8" y2="236" stroke="#000" stroke-width="1.8"/>
<line x1="731.4" y1="303.9" x2="735.8" y2="303.9" stroke="#000" stroke-width="1.8"/>
<rect x="730.25" y="261.7" width="6.7" height="16.7" fill="#fff" stroke="#000" stroke-width="1.7"/>
<line x1="730.9" y1="270.6" x2="736.3" y2="270.6" stroke="#FFA500" stroke-width="1.5"/>
<circle cx="554.3" cy="333.5" r="4.95" fill="#FF00FF" stroke="#000" stroke-width="1.6"/>
<circle cx="561.8" cy="299.6" r="4.95" fill="#FF00FF" stroke="#000" stroke-width="1.6"/>
<circle cx="569.3" cy="283.9" r="4.95" fill="#FF00FF" stroke="#000" stroke-width="1.6"/>
<circle cx="584.3" cy="268.6" r="4.95" fill="#FF00FF" stroke="#000" stroke-width="1.6"/>
<circle cx="614.4" cy="258" r="4.95" fill="#FF00FF" stroke="#000" stroke-width="1.6"/>
<circle cx="674" cy="253.4" r="4.95" fill="#FF00FF" stroke="#000" stroke-width="1.6"/>
<circle cx="733.9" cy="252.3" r="4.95" fill="#FF00FF" stroke="#000" stroke-width="1.6"/>
<path d="M554.3 333.5L559.5 308.5L561.4 300.9L564 293.7L567.4 287L572.3 279.7L574.5 276.9L576.7 274.6L583.9 269L589.1 264L592.8 261.5L596.6 259.7L601.8 257.9L608.9 256.5L614.5 255.8L626.1 255.1L654.6 254.8L741 254.8" fill="none" stroke="#FF00FF" stroke-width="3.34" stroke-linejoin="round" stroke-linecap="butt" stroke-dasharray="12.36 5.34" stroke-dashoffset="0"/>
</g>
<g clip-path="url(#cI)">
<path d="M554.3 527.5L557.8 431.9L733.8 431.9L733.8 483.5L557.8 483.5L554.3 527.5 Z" fill="#7FDBFF" stroke="none"/>
<path d="M554.3 527.5L557.8 453.4L733.8 453.4L733.8 471.3L557.8 471.3L554.3 527.5 Z" fill="#3F6FC5" stroke="none"/>
<line x1="554.3" y1="429" x2="554.3" y2="527.5" stroke="#000" stroke-opacity="0.085" stroke-width="1.1"/>
<line x1="644.3" y1="429" x2="644.3" y2="527.5" stroke="#000" stroke-opacity="0.085" stroke-width="1.1"/>
<line x1="733.9" y1="429" x2="733.9" y2="527.5" stroke="#000" stroke-opacity="0.085" stroke-width="1.1"/>
<line x1="549" y1="461" x2="747" y2="461" stroke="#000" stroke-opacity="0.085" stroke-width="1.1"/>
</g>
<rect x="549" y="429" width="198" height="98.5" fill="none" stroke="#000" stroke-width="2.1"/>
<line x1="554.3" y1="527.5" x2="554.3" y2="523.1" stroke="#111" stroke-width="1.1"/>
<line x1="554.3" y1="429" x2="554.3" y2="433.4" stroke="#111" stroke-width="1.1"/>
<line x1="644.3" y1="527.5" x2="644.3" y2="523.1" stroke="#111" stroke-width="1.1"/>
<line x1="644.3" y1="429" x2="644.3" y2="433.4" stroke="#111" stroke-width="1.1"/>
<line x1="733.9" y1="527.5" x2="733.9" y2="523.1" stroke="#111" stroke-width="1.1"/>
<line x1="733.9" y1="429" x2="733.9" y2="433.4" stroke="#111" stroke-width="1.1"/>
<line x1="549" y1="461" x2="553.4" y2="461" stroke="#111" stroke-width="1.1"/>
<line x1="747" y1="461" x2="742.6" y2="461" stroke="#111" stroke-width="1.1"/>
<g clip-path="url(#cI)">
<path d="M554.3 527.5L558 462.6L733.8 462.6" fill="none" stroke="#000080" stroke-width="1.6" stroke-linejoin="round" stroke-linecap="butt"/>
<line x1="561.8" y1="425" x2="561.8" y2="453.4" stroke="#000" stroke-width="1.7"/>
<line x1="561.8" y1="471.1" x2="561.8" y2="496.2" stroke="#000" stroke-width="1.7"/>
<line x1="559.6" y1="425" x2="564" y2="425" stroke="#000" stroke-width="1.8"/>
<line x1="559.6" y1="496.2" x2="564" y2="496.2" stroke="#000" stroke-width="1.8"/>
<rect x="558.95" y="453.4" width="5.7" height="17.7" fill="#fff" stroke="#000" stroke-width="1.7"/>
<line x1="559.6" y1="462.5" x2="564" y2="462.5" stroke="#FFA500" stroke-width="1.5"/>
<line x1="569.4" y1="425" x2="569.4" y2="453.4" stroke="#000" stroke-width="1.7"/>
<line x1="569.4" y1="471.1" x2="569.4" y2="496.2" stroke="#000" stroke-width="1.7"/>
<line x1="567.2" y1="425" x2="571.6" y2="425" stroke="#000" stroke-width="1.8"/>
<line x1="567.2" y1="496.2" x2="571.6" y2="496.2" stroke="#000" stroke-width="1.8"/>
<rect x="566.55" y="453.4" width="5.7" height="17.7" fill="#fff" stroke="#000" stroke-width="1.7"/>
<line x1="567.2" y1="462.5" x2="571.6" y2="462.5" stroke="#FFA500" stroke-width="1.5"/>
<line x1="584.3" y1="425" x2="584.3" y2="453.4" stroke="#000" stroke-width="1.7"/>
<line x1="584.3" y1="471.1" x2="584.3" y2="496.2" stroke="#000" stroke-width="1.7"/>
<line x1="582.1" y1="425" x2="586.5" y2="425" stroke="#000" stroke-width="1.8"/>
<line x1="582.1" y1="496.2" x2="586.5" y2="496.2" stroke="#000" stroke-width="1.8"/>
<rect x="580.95" y="453.4" width="6.7" height="17.7" fill="#fff" stroke="#000" stroke-width="1.7"/>
<line x1="581.6" y1="462.5" x2="587" y2="462.5" stroke="#FFA500" stroke-width="1.5"/>
<line x1="614.1" y1="425" x2="614.1" y2="453.4" stroke="#000" stroke-width="1.7"/>
<line x1="614.1" y1="471.1" x2="614.1" y2="496.2" stroke="#000" stroke-width="1.7"/>
<line x1="611.9" y1="425" x2="616.3" y2="425" stroke="#000" stroke-width="1.8"/>
<line x1="611.9" y1="496.2" x2="616.3" y2="496.2" stroke="#000" stroke-width="1.8"/>
<rect x="610.65" y="453.4" width="6.9" height="17.7" fill="#fff" stroke="#000" stroke-width="1.7"/>
<line x1="611.3" y1="462.5" x2="616.9" y2="462.5" stroke="#FFA500" stroke-width="1.5"/>
<line x1="673.9" y1="425" x2="673.9" y2="453.4" stroke="#000" stroke-width="1.7"/>
<line x1="673.9" y1="471.1" x2="673.9" y2="496.2" stroke="#000" stroke-width="1.7"/>
<line x1="671.7" y1="425" x2="676.1" y2="425" stroke="#000" stroke-width="1.8"/>
<line x1="671.7" y1="496.2" x2="676.1" y2="496.2" stroke="#000" stroke-width="1.8"/>
<rect x="670.45" y="453.4" width="6.9" height="17.7" fill="#fff" stroke="#000" stroke-width="1.7"/>
<line x1="671.1" y1="462.5" x2="676.7" y2="462.5" stroke="#FFA500" stroke-width="1.5"/>
<line x1="733.6" y1="425" x2="733.6" y2="453.4" stroke="#000" stroke-width="1.7"/>
<line x1="733.6" y1="471.1" x2="733.6" y2="496.2" stroke="#000" stroke-width="1.7"/>
<line x1="731.4" y1="425" x2="735.8" y2="425" stroke="#000" stroke-width="1.8"/>
<line x1="731.4" y1="496.2" x2="735.8" y2="496.2" stroke="#000" stroke-width="1.8"/>
<rect x="730.25" y="453.4" width="6.7" height="17.7" fill="#fff" stroke="#000" stroke-width="1.7"/>
<line x1="730.9" y1="462.5" x2="736.3" y2="462.5" stroke="#FFA500" stroke-width="1.5"/>
<circle cx="554.3" cy="527.5" r="4.95" fill="#FF00FF" stroke="#000" stroke-width="1.6"/>
<circle cx="561.8" cy="444" r="4.95" fill="#FF00FF" stroke="#000" stroke-width="1.6"/>
<circle cx="569.2" cy="444.2" r="4.95" fill="#FF00FF" stroke="#000" stroke-width="1.6"/>
<circle cx="584.3" cy="443.6" r="4.95" fill="#FF00FF" stroke="#000" stroke-width="1.6"/>
<circle cx="614.2" cy="444" r="4.95" fill="#FF00FF" stroke="#000" stroke-width="1.6"/>
<circle cx="673.9" cy="444" r="4.95" fill="#FF00FF" stroke="#000" stroke-width="1.6"/>
<circle cx="733.6" cy="444" r="4.95" fill="#FF00FF" stroke="#000" stroke-width="1.6"/>
<path d="M554.3 527.5L555.8 452L556.5 447.2L557.3 445.7L558.4 444.6L560.3 444.1L561.8 444L741 444" fill="none" stroke="#FF00FF" stroke-width="3.34" stroke-linejoin="round" stroke-linecap="butt" stroke-dasharray="12.36 5.34" stroke-dashoffset="0"/>
</g>
<g clip-path="url(#cL)">
<path d="M554.3 722.9L555.8 702.2L557.5 667L562 620L733.8 620L733.8 723.5L554.3 723.5 Z" fill="#7FDBFF" stroke="none"/>
<path d="M554.3 722.9L556.1 719.2L557.9 713.5L558.8 711.9L560.1 710.1L564.2 705.6L569.6 700.3L591.2 682.9L597.9 677.8L606.9 672L618.6 665.3L629.9 659.3L638.9 654.9L649.7 650.2L660.5 646.1L670.8 642.7L699.6 633.9L716.7 629.1L733.8 624.5L733.8 710.9L688.8 713.1L642.5 716.4L601.5 718.8L577.2 720.6L554.3 722.9 Z" fill="#3F6FC5" stroke="none"/>
<line x1="554.3" y1="630.5" x2="554.3" y2="722.7" stroke="#000" stroke-opacity="0.085" stroke-width="1.1"/>
<line x1="643.8" y1="630.5" x2="643.8" y2="722.7" stroke="#000" stroke-opacity="0.085" stroke-width="1.1"/>
<line x1="733.8" y1="630.5" x2="733.8" y2="722.7" stroke="#000" stroke-opacity="0.085" stroke-width="1.1"/>
<line x1="549" y1="677" x2="747" y2="677" stroke="#000" stroke-opacity="0.085" stroke-width="1.1"/>
</g>
<rect x="549" y="630.5" width="198" height="92.2" fill="none" stroke="#000" stroke-width="2.1"/>
<line x1="554.3" y1="722.7" x2="554.3" y2="718.3" stroke="#111" stroke-width="1.1"/>
<line x1="554.3" y1="630.5" x2="554.3" y2="634.9" stroke="#111" stroke-width="1.1"/>
<line x1="643.8" y1="722.7" x2="643.8" y2="718.3" stroke="#111" stroke-width="1.1"/>
<line x1="643.8" y1="630.5" x2="643.8" y2="634.9" stroke="#111" stroke-width="1.1"/>
<line x1="733.8" y1="722.7" x2="733.8" y2="718.3" stroke="#111" stroke-width="1.1"/>
<line x1="733.8" y1="630.5" x2="733.8" y2="634.9" stroke="#111" stroke-width="1.1"/>
<line x1="549" y1="677" x2="553.4" y2="677" stroke="#111" stroke-width="1.1"/>
<line x1="747" y1="677" x2="742.6" y2="677" stroke="#111" stroke-width="1.1"/>
<g clip-path="url(#cL)">
<path d="M554.3 722.9L564.6 719.3L599.7 708.9L621.3 703.1L643.4 697.9L659.1 694.5L676.2 691.3L707.7 686L733.8 682" fill="none" stroke="#000080" stroke-width="1.6" stroke-linejoin="round" stroke-linecap="butt"/>
<path d="M554.3 722.9L555.2 721.5L557 719.6L562.2 715.3L569 710.7L577.3 706L586.4 701.3L596.5 696.8L607.5 692.4L619.4 688L631.8 683.9L645.1 679.8L659.3 675.8L673.9 672L689.5 668.2L706 664.5L722.9 661L740.8 657.6" fill="none" stroke="#FF00FF" stroke-width="3.34" stroke-linejoin="round" stroke-linecap="butt" stroke-dasharray="12.36 5.34" stroke-dashoffset="0"/>
<circle cx="554.3" cy="722.9" r="5" fill="#FF00FF" stroke="#000" stroke-width="1.7"/>
<circle cx="561.4" cy="715.5" r="5" fill="#FF00FF" stroke="#000" stroke-width="1.7"/>
<circle cx="569.4" cy="710.4" r="5" fill="#FF00FF" stroke="#000" stroke-width="1.7"/>
<circle cx="584.3" cy="702.7" r="5" fill="#FF00FF" stroke="#000" stroke-width="1.7"/>
<circle cx="614.1" cy="689.8" r="5" fill="#FF00FF" stroke="#000" stroke-width="1.7"/>
<circle cx="674" cy="672.3" r="5" fill="#FF00FF" stroke="#000" stroke-width="1.7"/>
<circle cx="733.8" cy="658.9" r="5" fill="#FF00FF" stroke="#000" stroke-width="1.7"/>
</g>
<g transform="translate(-0.993,12.5) scale(1.055,1)" fill="#000"><text xml:space="preserve" x="0" font-size="18">Synthetic data: Low </text><text xml:space="preserve" x="162.097" font-size="18" font-style="italic">r</text></g>
<g transform="translate(0.497,206.3) scale(1.072,1)" fill="#000"><text xml:space="preserve" x="0" font-size="18">Synthetic data: Intermediate </text><text xml:space="preserve" x="229.131" font-size="18" font-style="italic">r</text></g>
<g transform="translate(0.504,399.6) scale(1.06,1)" fill="#000"><text xml:space="preserve" x="0" font-size="18">Synthetic data: High </text><text xml:space="preserve" x="166.096" font-size="18" font-style="italic">r</text></g>
<g transform="translate(0.125,593.6) scale(1.049,1)" fill="#000"><text xml:space="preserve" x="0" font-size="18">Experimental data</text></g>
<g transform="translate(18.282,31.7) scale(0.97,1)" fill="#000"><text xml:space="preserve" x="0" font-size="18">(A)</text></g>
<g transform="translate(261.181,31.7) scale(0.971,1)" fill="#000"><text xml:space="preserve" x="0" font-size="18">(B)</text></g>
<g transform="translate(501.408,31.7) scale(0.938,1)" fill="#000"><text xml:space="preserve" x="0" font-size="18">(C)</text></g>
<g transform="translate(18.265,225.5) scale(0.99,1)" fill="#000"><text xml:space="preserve" x="0" font-size="18">(D)</text></g>
<g transform="translate(261.215,225.5) scale(0.93,1)" fill="#000"><text xml:space="preserve" x="0" font-size="18">(E)</text></g>
<g transform="translate(501.415,225.5) scale(0.93,1)" fill="#000"><text xml:space="preserve" x="0" font-size="18">(F)</text></g>
<g transform="translate(18.297,418.7) scale(0.952,1)" fill="#000"><text xml:space="preserve" x="0" font-size="18">(G)</text></g>
<g transform="translate(261.176,418.7) scale(0.977,1)" fill="#000"><text xml:space="preserve" x="0" font-size="18">(H)</text></g>
<g transform="translate(501.365,418.7) scale(0.99,1)" fill="#000"><text xml:space="preserve" x="0" font-size="18">(I)</text></g>
<g transform="translate(18.439,614.6) scale(0.784,1)" fill="#000"><text xml:space="preserve" x="0" font-size="18">(J)</text></g>
<g transform="translate(261.2,614.6) scale(0.948,1)" fill="#000"><text xml:space="preserve" x="0" font-size="18">(K)</text></g>
<g transform="translate(501.39,614.6) scale(0.961,1)" fill="#000"><text xml:space="preserve" x="0" font-size="18">(L)</text></g>
<g transform="translate(24.276,157.5) scale(0.933,1)" fill="#000"><text xml:space="preserve" x="0" font-size="18">0</text></g>
<g transform="translate(112.905,157.5) scale(0.954,1)" fill="#000"><text xml:space="preserve" x="0" font-size="18">4</text></g>
<g transform="translate(201.496,157.5) scale(0.956,1)" fill="#000"><text xml:space="preserve" x="0" font-size="18">8</text></g>
<g transform="translate(268.276,157.5) scale(0.933,1)" fill="#000"><text xml:space="preserve" x="0" font-size="18">0</text></g>
<g transform="translate(354.587,157.5) scale(1.005,1)" fill="#000"><text xml:space="preserve" x="0" font-size="18">25</text></g>
<g transform="translate(446.536,157.5) scale(0.99,1)" fill="#000"><text xml:space="preserve" x="0" font-size="18">50</text></g>
<g transform="translate(539.276,157.5) scale(0.933,1)" fill="#000"><text xml:space="preserve" x="0" font-size="18">0</text></g>
<g transform="translate(628.549,157.5) scale(0.975,1)" fill="#000"><text xml:space="preserve" x="0" font-size="18">12</text></g>
<g transform="translate(722.616,157.5) scale(1.017,1)" fill="#000"><text xml:space="preserve" x="0" font-size="18">24</text></g>
<g transform="translate(24.276,351.3) scale(0.933,1)" fill="#000"><text xml:space="preserve" x="0" font-size="18">0</text></g>
<g transform="translate(112.905,351.3) scale(0.954,1)" fill="#000"><text xml:space="preserve" x="0" font-size="18">4</text></g>
<g transform="translate(201.496,351.3) scale(0.956,1)" fill="#000"><text xml:space="preserve" x="0" font-size="18">8</text></g>
<g transform="translate(268.276,351.3) scale(0.933,1)" fill="#000"><text xml:space="preserve" x="0" font-size="18">0</text></g>
<g transform="translate(354.587,351.3) scale(1.005,1)" fill="#000"><text xml:space="preserve" x="0" font-size="18">25</text></g>
<g transform="translate(446.536,351.3) scale(0.99,1)" fill="#000"><text xml:space="preserve" x="0" font-size="18">50</text></g>
<g transform="translate(549.276,351) scale(0.933,1)" fill="#000"><text xml:space="preserve" x="0" font-size="18">0</text></g>
<g transform="translate(634.349,351) scale(0.975,1)" fill="#000"><text xml:space="preserve" x="0" font-size="18">12</text></g>
<g transform="translate(723.616,351) scale(1.017,1)" fill="#000"><text xml:space="preserve" x="0" font-size="18">24</text></g>
<g transform="translate(24.96,540) scale(1.038,1)" fill="#000"><text xml:space="preserve" x="0" font-size="18">0.0000</text></g>
<g transform="translate(104.077,540) scale(1.036,1)" fill="#000"><text xml:space="preserve" x="0" font-size="18">0.0001</text></g>
<g transform="translate(183.244,540) scale(1.033,1)" fill="#000"><text xml:space="preserve" x="0" font-size="18">0.0002</text></g>
<g transform="translate(268.276,545) scale(0.933,1)" fill="#000"><text xml:space="preserve" x="0" font-size="18">0</text></g>
<g transform="translate(354.587,545) scale(1.005,1)" fill="#000"><text xml:space="preserve" x="0" font-size="18">25</text></g>
<g transform="translate(446.536,545) scale(0.99,1)" fill="#000"><text xml:space="preserve" x="0" font-size="18">50</text></g>
<g transform="translate(549.276,545) scale(0.933,1)" fill="#000"><text xml:space="preserve" x="0" font-size="18">0</text></g>
<g transform="translate(634.349,545) scale(0.975,1)" fill="#000"><text xml:space="preserve" x="0" font-size="18">12</text></g>
<g transform="translate(723.616,545) scale(1.017,1)" fill="#000"><text xml:space="preserve" x="0" font-size="18">24</text></g>
<g transform="translate(24.276,739.7) scale(0.933,1)" fill="#000"><text xml:space="preserve" x="0" font-size="18">0</text></g>
<g transform="translate(112.905,739.7) scale(0.954,1)" fill="#000"><text xml:space="preserve" x="0" font-size="18">4</text></g>
<g transform="translate(201.496,739.7) scale(0.956,1)" fill="#000"><text xml:space="preserve" x="0" font-size="18">8</text></g>
<g transform="translate(268.276,740) scale(0.933,1)" fill="#000"><text xml:space="preserve" x="0" font-size="18">0</text></g>
<g transform="translate(345.721,740) scale(1.015,1)" fill="#000"><text xml:space="preserve" x="0" font-size="18">100</text></g>
<g transform="translate(433.892,740) scale(1.026,1)" fill="#000"><text xml:space="preserve" x="0" font-size="18">200</text></g>
<g transform="translate(549.276,740.2) scale(0.933,1)" fill="#000"><text xml:space="preserve" x="0" font-size="18">0</text></g>
<g transform="translate(634.349,740.2) scale(0.975,1)" fill="#000"><text xml:space="preserve" x="0" font-size="18">12</text></g>
<g transform="translate(723.616,740.2) scale(1.017,1)" fill="#000"><text xml:space="preserve" x="0" font-size="18">24</text></g>
<g transform="translate(521.676,146.3) scale(0.933,1)" fill="#000"><text xml:space="preserve" x="0" font-size="18">0</text></g>
<g transform="translate(522.115,79.9) scale(0.914,1)" fill="#000"><text xml:space="preserve" x="0" font-size="18">2</text></g>
<g transform="translate(532.376,339.6) scale(0.933,1)" fill="#000"><text xml:space="preserve" x="0" font-size="18">0</text></g>
<g transform="translate(521.915,273.7) scale(0.99,1)" fill="#000"><text xml:space="preserve" x="0" font-size="18">10</text></g>
<g transform="translate(532.376,533.6) scale(0.933,1)" fill="#000"><text xml:space="preserve" x="0" font-size="18">0</text></g>
<g transform="translate(521.915,467.1) scale(0.99,1)" fill="#000"><text xml:space="preserve" x="0" font-size="18">10</text></g>
<g transform="translate(532.376,728.7) scale(0.933,1)" fill="#000"><text xml:space="preserve" x="0" font-size="18">0</text></g>
<g transform="translate(521.915,682.7) scale(0.99,1)" fill="#000"><text xml:space="preserve" x="0" font-size="18">10</text></g>
<g transform="translate(521.569,636.7) scale(1.008,1)" fill="#000"><text xml:space="preserve" x="0" font-size="18">20</text></g>
<g transform="translate(222.206,152.7) scale(1.196,1)" fill="#000"><text xml:space="preserve" x="0" font-size="13.3">×10</text><text xml:space="preserve" x="22.561" y="-4.6" font-size="9.6">−9</text></g>
<g transform="translate(222.206,346.5) scale(1.196,1)" fill="#000"><text xml:space="preserve" x="0" font-size="13.3">×10</text><text xml:space="preserve" x="22.561" y="-4.6" font-size="9.6">−7</text></g>
<g transform="translate(222.206,734.9) scale(1.196,1)" fill="#000"><text xml:space="preserve" x="0" font-size="13.3">×10</text><text xml:space="preserve" x="22.561" y="-4.6" font-size="9.6">−8</text></g>
<g transform="translate(103.098,179.1) scale(1.129,1)" fill="#000"><text xml:space="preserve" x="0" font-size="18" font-style="italic">r</text><text xml:space="preserve" x="5.994" font-size="18"> [m s</text><text xml:space="preserve" x="44.991" y="-5.6" font-size="12.6">−1</text><text xml:space="preserve" x="59.357" font-size="18">]</text></g>
<g transform="translate(336.456,180.6) scale(1.071,1)" fill="#000"><text xml:space="preserve" x="0" font-size="18" font-style="italic">K</text><text xml:space="preserve" x="12.006" font-size="18"> [p. cell</text><text xml:space="preserve" x="69.029" font-size="5"> </text><text xml:space="preserve" x="70.418" y="-4.1" font-size="11.5">−</text><text xml:space="preserve" x="77.134" y="-4.3" font-size="8.8">1</text><text xml:space="preserve" x="82.028" font-size="3"> </text><text xml:space="preserve" x="82.862" font-size="18">]</text></g>
<g transform="translate(621.271,180.1) scale(1.156,1)" fill="#000"><text xml:space="preserve" x="0" font-size="18" font-style="italic">t</text><text xml:space="preserve" x="5.001" font-size="18"> [hr]</text></g>
<g transform="translate(103.098,372.9) scale(1.129,1)" fill="#000"><text xml:space="preserve" x="0" font-size="18" font-style="italic">r</text><text xml:space="preserve" x="5.994" font-size="18"> [m s</text><text xml:space="preserve" x="44.991" y="-5.6" font-size="12.6">−1</text><text xml:space="preserve" x="59.357" font-size="18">]</text></g>
<g transform="translate(336.456,374.4) scale(1.071,1)" fill="#000"><text xml:space="preserve" x="0" font-size="18" font-style="italic">K</text><text xml:space="preserve" x="12.006" font-size="18"> [p. cell</text><text xml:space="preserve" x="69.029" font-size="5"> </text><text xml:space="preserve" x="70.418" y="-4.1" font-size="11.5">−</text><text xml:space="preserve" x="77.134" y="-4.3" font-size="8.8">1</text><text xml:space="preserve" x="82.028" font-size="3"> </text><text xml:space="preserve" x="82.862" font-size="18">]</text></g>
<g transform="translate(626.671,373.6) scale(1.156,1)" fill="#000"><text xml:space="preserve" x="0" font-size="18" font-style="italic">t</text><text xml:space="preserve" x="5.001" font-size="18"> [hr]</text></g>
<g transform="translate(115.148,566.4) scale(1.129,1)" fill="#000"><text xml:space="preserve" x="0" font-size="18" font-style="italic">r</text><text xml:space="preserve" x="5.994" font-size="18"> [m s</text><text xml:space="preserve" x="44.991" y="-5.6" font-size="12.6">−1</text><text xml:space="preserve" x="59.357" font-size="18">]</text></g>
<g transform="translate(336.456,568.1) scale(1.071,1)" fill="#000"><text xml:space="preserve" x="0" font-size="18" font-style="italic">K</text><text xml:space="preserve" x="12.006" font-size="18"> [p. cell</text><text xml:space="preserve" x="69.029" font-size="5"> </text><text xml:space="preserve" x="70.418" y="-4.1" font-size="11.5">−</text><text xml:space="preserve" x="77.134" y="-4.3" font-size="8.8">1</text><text xml:space="preserve" x="82.028" font-size="3"> </text><text xml:space="preserve" x="82.862" font-size="18">]</text></g>
<g transform="translate(626.671,567.6) scale(1.156,1)" fill="#000"><text xml:space="preserve" x="0" font-size="18" font-style="italic">t</text><text xml:space="preserve" x="5.001" font-size="18"> [hr]</text></g>
<g transform="translate(103.098,761.4) scale(1.129,1)" fill="#000"><text xml:space="preserve" x="0" font-size="18" font-style="italic">r</text><text xml:space="preserve" x="5.994" font-size="18"> [m s</text><text xml:space="preserve" x="44.991" y="-5.6" font-size="12.6">−1</text><text xml:space="preserve" x="59.357" font-size="18">]</text></g>
<g transform="translate(336.456,763.2) scale(1.071,1)" fill="#000"><text xml:space="preserve" x="0" font-size="18" font-style="italic">K</text><text xml:space="preserve" x="12.006" font-size="18"> [p. cell</text><text xml:space="preserve" x="69.029" font-size="5"> </text><text xml:space="preserve" x="70.418" y="-4.1" font-size="11.5">−</text><text xml:space="preserve" x="77.134" y="-4.3" font-size="8.8">1</text><text xml:space="preserve" x="82.028" font-size="3"> </text><text xml:space="preserve" x="82.862" font-size="18">]</text></g>
<g transform="translate(626.671,762.7) scale(1.156,1)" fill="#000"><text xml:space="preserve" x="0" font-size="18" font-style="italic">t</text><text xml:space="preserve" x="5.001" font-size="18"> [hr]</text></g>
<g transform="translate(13.1,122.585) rotate(-90) scale(1.045,1)" fill="#000"><text xml:space="preserve" x="0" font-size="18">Density</text></g>
<g transform="translate(13.1,316.485) rotate(-90) scale(1.045,1)" fill="#000"><text xml:space="preserve" x="0" font-size="18">Density</text></g>
<g transform="translate(13.1,510.085) rotate(-90) scale(1.045,1)" fill="#000"><text xml:space="preserve" x="0" font-size="18">Density</text></g>
<g transform="translate(13.1,705.285) rotate(-90) scale(1.045,1)" fill="#000"><text xml:space="preserve" x="0" font-size="18">Density</text></g>
<g transform="translate(514.9,108.136) rotate(-90) scale(0.997,1)" fill="#000"><text xml:space="preserve" x="0" font-size="18" font-style="italic">P</text><text xml:space="preserve" x="12.006" font-size="18">(</text><text xml:space="preserve" x="18" font-size="18" font-style="italic">t</text><text xml:space="preserve" x="23.001" font-size="18">)</text></g>
<g transform="translate(514.9,298.136) rotate(-90) scale(0.997,1)" fill="#000"><text xml:space="preserve" x="0" font-size="18" font-style="italic">P</text><text xml:space="preserve" x="12.006" font-size="18">(</text><text xml:space="preserve" x="18" font-size="18" font-style="italic">t</text><text xml:space="preserve" x="23.001" font-size="18">)</text></g>
<g transform="translate(514.9,491.886) rotate(-90) scale(0.997,1)" fill="#000"><text xml:space="preserve" x="0" font-size="18" font-style="italic">P</text><text xml:space="preserve" x="12.006" font-size="18">(</text><text xml:space="preserve" x="18" font-size="18" font-style="italic">t</text><text xml:space="preserve" x="23.001" font-size="18">)</text></g>
<g transform="translate(514.9,687.736) rotate(-90) scale(0.997,1)" fill="#000"><text xml:space="preserve" x="0" font-size="18" font-style="italic">P</text><text xml:space="preserve" x="12.006" font-size="18">(</text><text xml:space="preserve" x="18" font-size="18" font-style="italic">t</text><text xml:space="preserve" x="23.001" font-size="18">)</text></g>
</svg></body></html>
